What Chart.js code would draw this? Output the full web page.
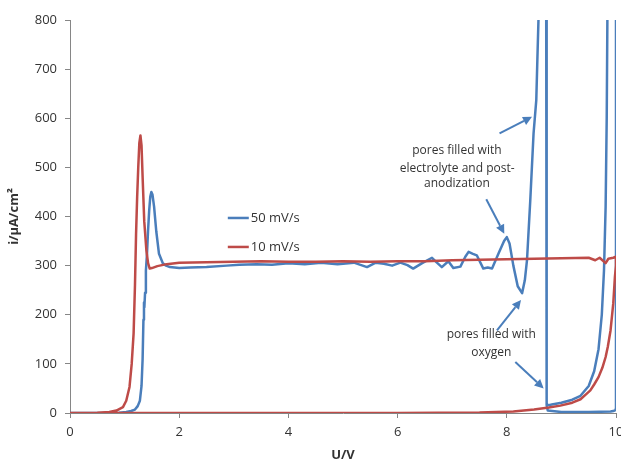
<!DOCTYPE html>
<html>
<head>
<meta charset="utf-8">
<script src="https://cdn.jsdelivr.net/npm/chart.js@4/dist/chart.umd.min.js"></script>
<style>
    html, body { margin: 0; padding: 0; background: #fff; overflow: hidden; }
    #wrap { width: 632px; height: 464px; }
</style>
</head>
<body>
<div id="wrap"><canvas id="cvChart" width="632" height="464"></canvas></div>
<script>
// 50 mV/s scan (U in V, i in µA/cm²) - values above 800 run off the top of the plot
const blueU = [0, 0.5, 0.9, 1.03, 1.12, 1.19, 1.24, 1.28, 1.31, 1.33, 1.345, 1.355, 1.362, 1.375, 1.39, 1.41, 1.43, 1.45, 1.47, 1.49, 1.51, 1.54, 1.58, 1.63, 1.7, 1.76, 1.83, 2.0, 2.2, 2.5, 2.87, 3.1, 3.42, 3.7, 4.0, 4.3, 4.6, 4.9, 5.2, 5.44, 5.6, 5.75, 5.9, 6.05, 6.18, 6.285, 6.45, 6.63, 6.72, 6.81, 6.93, 7.02, 7.15, 7.24, 7.3, 7.38, 7.45, 7.57, 7.65, 7.73, 7.85, 7.95, 8.0, 8.05, 8.12, 8.2, 8.28, 8.33, 8.37, 8.43, 8.49, 8.54, 8.56, 8.58, 8.6, 8.72, 8.73, 8.8, 9.0, 9.2, 9.35, 9.5, 9.6, 9.68, 9.74, 9.78, 9.81, 9.83, 9.845, 9.86, 10.0, 10.0, 9.99, 9.95, 9.9, 9.5, 9.0, 8.75, 8.73];
const blueI = [0, 0, 0.5, 2, 4, 7, 14, 25, 55, 110, 190, 225, 215, 245, 290, 324, 372, 412, 440, 450, 445, 420, 370, 324, 305, 300, 297, 295, 296, 297, 300, 302, 303, 302, 305, 303, 306, 303, 306, 297, 306, 304, 300, 306, 301, 294, 305, 316, 306, 297, 309, 295, 298, 318, 328, 324, 321, 294, 296, 294, 325, 350, 358, 345, 300, 258, 244, 270, 311, 433, 569, 637, 720, 800, 1000, 1000, 16, 17, 21, 27, 35, 55, 85, 130, 200, 290, 420, 600, 850, 1000, 1000, 10, 6, 4, 3, 2, 2, 5, 16];

// 10 mV/s scan
const redU = [0, 0.5, 0.72, 0.85, 0.97, 1.03, 1.09, 1.13, 1.165, 1.19, 1.21, 1.23, 1.25, 1.27, 1.29, 1.31, 1.33, 1.36, 1.4, 1.43, 1.46, 1.5, 1.6, 1.77, 2.0, 2.5, 3.0, 3.5, 4.0, 4.5, 5.0, 5.5, 6.0, 6.5, 7.0, 7.5, 8.0, 8.5, 9.0, 9.5, 9.62, 9.7, 9.81, 9.86, 9.95, 10.0, 10.0, 9.98, 9.95, 9.9, 9.85, 9.81, 9.75, 9.68, 9.6, 9.53, 9.45, 9.35, 9.2, 8.98, 8.77, 8.5, 8.12, 7.5, 6.0, 0];
const redI = [0, 0.5, 2, 5, 12, 25, 53, 100, 162, 260, 365, 440, 500, 550, 565, 545, 480, 390, 330, 305, 294, 295, 299, 303, 306, 307, 308, 309, 308, 308, 309, 308, 309, 309, 311, 312, 313, 314, 315, 316, 311, 316, 305, 314, 316, 318, 300, 277, 223, 168, 135, 114, 92, 73, 58, 46, 38, 28, 21, 15, 11, 7, 3, 1, 0, 0];

const seriesLabels = ['50 mV/s', '10 mV/s'];
const seriesColors = ['#4a7ebb', '#be4b48'];

const xTicks = [0, 2, 4, 6, 8, 10];
const yTicks = [0, 100, 200, 300, 400, 500, 600, 700, 800];

// annotation text lines: [text, U, i]
const noteLines = [
    ['pores filled with', 7.086, 534],
    ['electrolyte and post-', 7.092, 498],
    ['anodization', 7.086, 468],
    ['pores filled with', 7.716, 160],
    ['oxygen', 7.716, 124]
];
// arrows: [fromU, fromI, toU, toI]
const noteArrows = [
    [7.867, 569, 8.462, 603],
    [7.624, 435, 7.954, 365],
    [7.82, 168, 8.26, 230],
    [8.156, 104, 8.675, 50]
];
// legend anchor (U, i) for each row
const legendU = [2.89, 2.89];
const legendI = [397, 338];

const axisGrey = '#868686';
const textColor = '#333333';

function toPoints(xs, ys) {
    return xs.map((x, i) => ({ x: x, y: ys[i] }));
}

// draws the in-plot legend and the arrow notes
const notesPlugin = {
    id: 'notes',
    afterDatasetsDraw(chart) {
        const ctx = chart.ctx;
        const xs = chart.scales.x;
        const ys = chart.scales.y;
        ctx.save();

        // legend
        ctx.font = '13px "Open Sans"';
        ctx.textAlign = 'left';
        ctx.textBaseline = 'middle';
        seriesLabels.forEach((lbl, i) => {
            const px = xs.getPixelForValue(legendU[i]);
            const py = ys.getPixelForValue(legendI[i]);
            ctx.strokeStyle = seriesColors[i];
            ctx.lineWidth = 2.5;
            ctx.beginPath();
            ctx.moveTo(px, py);
            ctx.lineTo(px + 21, py);
            ctx.stroke();
            ctx.fillStyle = textColor;
            ctx.fillText(lbl, px + 23, py);
        });

        // arrows
        ctx.strokeStyle = seriesColors[0];
        ctx.fillStyle = seriesColors[0];
        ctx.lineWidth = 2;
        noteArrows.forEach(a => {
            const x1 = xs.getPixelForValue(a[0]);
            const y1 = ys.getPixelForValue(a[1]);
            const x2 = xs.getPixelForValue(a[2]);
            const y2 = ys.getPixelForValue(a[3]);
            const ang = Math.atan2(y2 - y1, x2 - x1);
            const hl = 9, hw = 4.5;
            const bx = x2 - hl * Math.cos(ang);
            const by = y2 - hl * Math.sin(ang);
            ctx.beginPath();
            ctx.moveTo(x1, y1);
            ctx.lineTo(bx, by);
            ctx.stroke();
            ctx.beginPath();
            ctx.moveTo(x2, y2);
            ctx.lineTo(bx + hw * Math.sin(ang), by - hw * Math.cos(ang));
            ctx.lineTo(bx - hw * Math.sin(ang), by + hw * Math.cos(ang));
            ctx.closePath();
            ctx.fill();
        });

        // note text
        ctx.font = '12px "Open Sans"';
        ctx.textAlign = 'center';
        ctx.fillStyle = textColor;
        noteLines.forEach(n => {
            ctx.fillText(n[0], xs.getPixelForValue(n[1]), ys.getPixelForValue(n[2]));
        });
        ctx.restore();
    }
};

new Chart(document.getElementById('cvChart').getContext('2d'), {
    type: 'scatter',
    data: {
        datasets: [
            {
                label: seriesLabels[0],
                data: toPoints(blueU, blueI),
                showLine: true,
                borderColor: seriesColors[0],
                backgroundColor: seriesColors[0],
                borderWidth: 2.5,
                borderJoinStyle: 'round',
                pointRadius: 0,
                tension: 0,
                order: 1
            },
            {
                label: seriesLabels[1],
                data: toPoints(redU, redI),
                showLine: true,
                borderColor: seriesColors[1],
                backgroundColor: seriesColors[1],
                borderWidth: 2.5,
                borderJoinStyle: 'round',
                pointRadius: 0,
                tension: 0,
                order: 0
            }
        ]
    },
    options: {
        responsive: false,
        animation: false,
        layout: { padding: { top: 20, right: 16, left: 0, bottom: 0 } },
        plugins: {
            legend: { display: false },
            tooltip: { enabled: false }
        },
        scales: {
            x: {
                type: 'linear',
                min: 0,
                max: 10,
                afterBuildTicks: scale => { scale.ticks = xTicks.map(v => ({ value: v })); },
                afterFit: scale => { scale.height = 51; },
                ticks: { color: textColor, font: { family: 'Open Sans', size: 13 }, padding: 6 },
                grid: { drawOnChartArea: false, drawTicks: true, tickLength: 5, color: axisGrey },
                border: { display: true, color: axisGrey, width: 1 },
                title: {
                    display: true,
                    text: 'U/V',
                    color: textColor,
                    font: { family: 'Open Sans', size: 13, weight: 'bold' },
                    padding: { top: 0, bottom: 1 }
                }
            },
            y: {
                type: 'linear',
                min: 0,
                max: 800,
                afterBuildTicks: scale => { scale.ticks = yTicks.map(v => ({ value: v })); },
                afterFit: scale => { scale.width = 70; },
                ticks: { color: textColor, font: { family: 'Open Sans', size: 13 }, padding: 8 },
                grid: { drawOnChartArea: false, drawTicks: true, tickLength: 5, color: axisGrey },
                border: { display: true, color: axisGrey, width: 1 },
                title: {
                    display: true,
                    text: 'i/µA/cm²',
                    color: textColor,
                    font: { family: 'Open Sans', size: 13, weight: 'bold' },
                    padding: { top: 6, bottom: 0 }
                }
            }
        }
    },
    plugins: [notesPlugin]
});
</script>
</body>
</html>
